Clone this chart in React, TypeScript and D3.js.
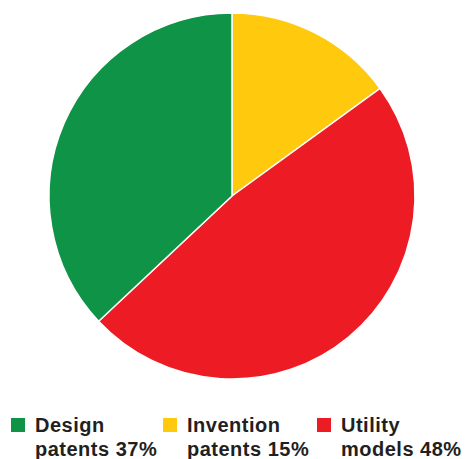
import React from "react";
import * as d3 from "d3";

const categories = ["Invention patents", "Utility models", "Design patents"];
const values = [15, 48, 37];
const colors = ["#ffc90d", "#ed1c24", "#0f9347"];

const legendOrder = [2, 0, 1];
const legendLine1 = ["Design", "Invention", "Utility"];
const legendLine2 = ["patents 37%", "patents 15%", "models 48%"];
const legendColors = ["#0f9347", "#ffc90d", "#ed1c24"];

export default function App() {
  const W = 465, H = 459;
  const cx = 232, cy = 196, r = 183;
  const pie = d3.pie<number>().sort(null).value((d) => d);
  const arcs = pie(values);
  const arcGen = d3.arc<d3.PieArcDatum<number>>().innerRadius(0).outerRadius(r);
  const legendX = [11, 163, 317];
  return (
    <svg width={W} height={H} style={{ position: "absolute", left: 0, top: 0 }}>
      <g transform={`translate(${cx},${cy})`}>
        {arcs.map((a, i) => (
          <path key={categories[i]} d={arcGen(a) || ""} fill={colors[i]} stroke="#fff" strokeWidth={1.5} />
        ))}
      </g>
      {legendOrder.map((_, i) => (
        <g key={i} transform={`translate(${legendX[i]},0)`}>
          <rect x={0} y={418} width={14} height={14} fill={legendColors[i]} />
          <text x={24} y={432} fontFamily="Liberation Sans, Arial, sans-serif" fontWeight="bold" fontSize={20} letterSpacing={0.5} fill="#231f20">
            {legendLine1[i]}
          </text>
          <text x={24} y={456} fontFamily="Liberation Sans, Arial, sans-serif" fontWeight="bold" fontSize={20} letterSpacing={0.5} fill="#231f20">
            {legendLine2[i]}
          </text>
        </g>
      ))}
    </svg>
  );
}
